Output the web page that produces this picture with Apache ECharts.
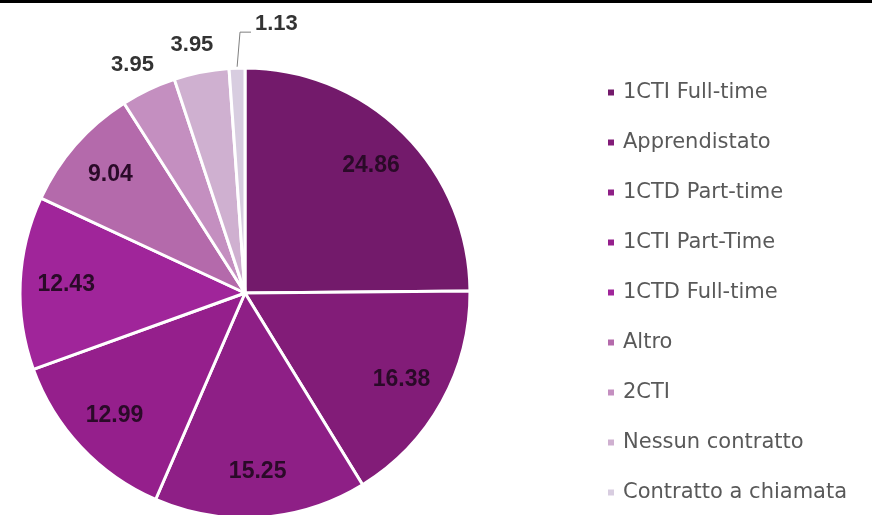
<!DOCTYPE html>
<html>
<head>
<meta charset="utf-8">
<script src="https://cdn.jsdelivr.net/npm/echarts@6/dist/echarts.min.js"></script>
<style>
  html, body { margin: 0; padding: 0; background: #fff; }
  #main { width: 872px; height: 515px; }
</style>
</head>
<body>
<div id="main"></div>
<script>
// contract types and their share (%)
const categories = ['1CTI Full-time', 'Apprendistato', '1CTD Part-time', '1CTI Part-Time', '1CTD Full-time', 'Altro', '2CTI', 'Nessun contratto', 'Contratto a chiamata'];
const values = [24.86, 16.38, 15.25, 12.99, 12.43, 9.04, 3.95, 3.95, 1.13];
const colors = ['#731a6b', '#821c78', '#8e1f86', '#951f8c', '#a0259a', '#b46aab', '#c48fc0', '#cfb0d0', '#d8cde0'];

const center = [245, 293];
const R = 225;
const nInside = 6; // first slices get their label inside

const chart = echarts.init(document.getElementById('main'));

const mainData = categories.map((n, i) => ({
  name: n,
  value: values[i],
  itemStyle: { color: colors[i] },
  label: { show: i >= nInside },
  labelLine: { show: i === categories.length - 1 }
}));
const labelData = categories.map((n, i) => ({
  name: n,
  value: values[i],
  label: { show: i < nInside }
}));

chart.setOption({
  animation: false,
  graphic: [{
    type: 'rect', left: 0, top: 0,
    shape: { width: 872, height: 3 },
    style: { fill: '#000' }
  }],
  legend: {
    orient: 'vertical',
    left: 601,
    top: 77,
    height: 440,
    itemWidth: 8,
    itemHeight: 8,
    itemGap: 29,
    icon: 'rect',
    data: categories,
    textStyle: { fontFamily: 'DejaVu Sans', fontSize: 21, color: '#595959', padding: [0, 0, 0, 3] }
  },
  series: [{
    type: 'pie',
    center: center,
    radius: [0, R],
    startAngle: 90,
    clockwise: true,
    silent: true,
    data: mainData,
    itemStyle: { borderColor: '#fff', borderWidth: 3 },
    label: {
      position: 'outside',
      formatter: '{c}',
      fontFamily: 'Liberation Sans',
      fontWeight: 'bold',
      fontSize: 22,
      color: '#333'
    },
    labelLine: { length: 8, length2: 0, lineStyle: { color: '#7f7f7f', width: 1 } },
    labelLayout: function (p) {
      const a = p.labelLinePoints ? p.labelLinePoints[0] : null;
      if (!a) return {};
      if (p.dataIndex === 8) {
        return {
          x: a[0] + 18, y: a[1] - 44,
          align: 'left', verticalAlign: 'middle',
          labelLinePoints: [[a[0], a[1]], [a[0] + 3, a[1] - 36], [a[0] + 14, a[1] - 36]]
        };
      }
      const dx = a[0] - center[0], dy = a[1] - center[1];
      const k = (R + 28) / R;
      return {
        x: center[0] + dx * k - 4, y: center[1] + dy * k,
        align: 'center', verticalAlign: 'middle'
      };
    },
    emphasis: { disabled: true }
  }, {
    type: 'pie',
    center: center,
    radius: [142, 210],
    startAngle: 90,
    clockwise: true,
    silent: true,
    data: labelData,
    itemStyle: { color: 'rgba(0,0,0,0)', borderWidth: 0 },
    label: {
      position: 'inside',
      formatter: '{c}',
      fontFamily: 'Liberation Sans',
      fontWeight: 'bold',
      fontSize: 23,
      color: '#2a0a28'
    },
    labelLine: { show: false },
    emphasis: { disabled: true }
  }]
});
</script>
</body>
</html>
